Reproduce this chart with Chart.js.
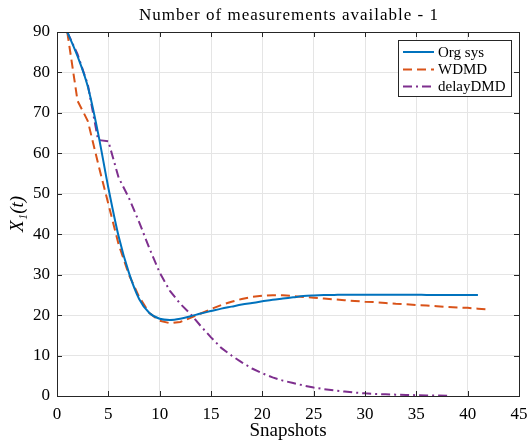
<!DOCTYPE html>
<html><head><meta charset="utf-8">
<script src="https://cdn.jsdelivr.net/npm/chart.js@4/dist/chart.umd.min.js"></script>
<style>html,body{margin:0;padding:0;background:#fff}</style>
</head><body>
<canvas id="c" width="530" height="442"></canvas>
<script>
const chartTitle = 'Number of measurements available - 1';
const xLabel = 'Snapshots';
const yLabel = 'X\u2081(t)';
const seriesNames = ['Org sys', 'WDMD', 'delayDMD'];
const xTicks = [0, 5, 10, 15, 20, 25, 30, 35, 40, 45];
const yTicks = [0, 10, 20, 30, 40, 50, 60, 70, 80, 90];
// values at snapshots 1, 2, 3, ...
const orgSys = [90, 84, 76.5, 65, 51.5, 39.5, 30.5, 24, 20.5, 19.1,
  18.8, 19.1, 19.7, 20.4, 21.0, 21.6, 22.1, 22.6, 23.0, 23.4,
  23.8, 24.1, 24.4, 24.7, 24.85, 24.95, 25.0, 25.05, 25.05, 25.05,
  25.05, 25.05, 25.05, 25.05, 25.05, 25.0, 25.0, 25.0, 25.0, 25.0, 25.0];
const wdmd = [90, 73, 68, 57.5, 47.5, 37.5, 30, 24.5, 20.5, 18.6,
  18.0, 18.3, 19.3, 20.4, 21.5, 22.5, 23.3, 24.0, 24.5, 24.8,
  24.9, 24.9, 24.7, 24.5, 24.3, 24.1, 23.9, 23.7, 23.5, 23.3,
  23.2, 23.0, 22.8, 22.7, 22.5, 22.4, 22.2, 22.0, 21.9, 21.8, 21.6, 21.4];
const delayDMD = [90, 84.5, 77, 63.3, 63, 54, 49, 43, 36.5, 30.5,
  26, 22.8, 20.3, 17.3, 14.5, 11.9, 10, 8.3, 6.8, 5.6,
  4.6, 3.8, 3.2, 2.6, 2.1, 1.7, 1.4, 1.1, 0.85, 0.65,
  0.52, 0.42, 0.33, 0.26, 0.2, 0.15, 0.1, 0.05];

const toPoints = vals => vals.map((v, i) => ({x: i + 1, y: v}));
const FONT = '"Liberation Serif", "Times New Roman", serif';
const AXIS_COLOR = '#262626';

const boxPlugin = {
  id: 'boxTicks',
  afterDraw(chart) {
    const {ctx, chartArea: a, scales: {x, y}} = chart;
    ctx.save();
    // title
    ctx.fillStyle = '#000';
    ctx.font = '17px ' + FONT;
    ctx.textAlign = 'center';
    ctx.textBaseline = 'alphabetic';
    if ('letterSpacing' in ctx) ctx.letterSpacing = '1px';
    ctx.fillText(chartTitle, (a.left + a.right) / 2 + 1, 20);
    if ('letterSpacing' in ctx) ctx.letterSpacing = '0px';

    ctx.strokeStyle = AXIS_COLOR;
    ctx.lineWidth = 1;
    ctx.strokeRect(Math.round(a.left) + 0.5, Math.round(a.top) + 0.5,
      Math.round(a.right - a.left), Math.round(a.bottom - a.top));
    const tl = 5;
    ctx.beginPath();
    xTicks.forEach(t => {
      const px = Math.round(x.getPixelForValue(t)) + 0.5;
      ctx.moveTo(px, a.bottom); ctx.lineTo(px, a.bottom - tl);
      ctx.moveTo(px, a.top); ctx.lineTo(px, a.top + tl);
    });
    yTicks.forEach(t => {
      const py = Math.round(y.getPixelForValue(t)) + 0.5;
      ctx.moveTo(a.left, py); ctx.lineTo(a.left + tl, py);
      ctx.moveTo(a.right, py); ctx.lineTo(a.right - tl, py);
    });
    ctx.stroke();
    // legend
    const lx = 398.5, ly = 40.5, lw = 113, lh = 56;
    ctx.fillStyle = '#fff';
    ctx.fillRect(lx, ly, lw, lh);
    ctx.strokeStyle = AXIS_COLOR;
    ctx.strokeRect(lx, ly, lw, lh);
    const rows = [52, 69.5, 86.5];
    chart.data.datasets.forEach((ds, i) => {
      ctx.save();
      ctx.strokeStyle = ds.borderColor;
      ctx.lineWidth = ds.borderWidth;
      ctx.setLineDash(ds.borderDash || []);
      ctx.beginPath();
      ctx.moveTo(403, rows[i]); ctx.lineTo(434, rows[i]);
      ctx.stroke();
      ctx.restore();
      ctx.fillStyle = '#000';
      ctx.font = '15px ' + FONT;
      ctx.textBaseline = 'middle';
      ctx.textAlign = 'left';
      ctx.fillText(ds.label, 438, rows[i] + 1);
    });
    ctx.restore();
  }
};

new Chart(document.getElementById('c'), {
  type: 'line',
  data: {
    datasets: [
      {label: seriesNames[0], data: toPoints(orgSys), borderColor: '#0072BD', borderWidth: 2,
       cubicInterpolationMode: 'monotone', pointRadius: 0, fill: false},
      {label: seriesNames[1], data: toPoints(wdmd), borderColor: '#D95319', borderWidth: 2,
       borderDash: [9, 5], pointRadius: 0, fill: false, tension: 0},
      {label: seriesNames[2], data: toPoints(delayDMD), borderColor: '#7E2F8E', borderWidth: 2,
       borderDash: [9, 4, 2, 4], pointRadius: 0, fill: false, tension: 0}
    ]
  },
  options: {
    responsive: false,
    animation: false,
    layout: {padding: {left: 0, right: 11, top: 32, bottom: 0}},
    plugins: {
      legend: {display: false},
      tooltip: {enabled: false},
      title: {display: false}
    },
    scales: {
      x: {
        type: 'linear', min: 0, max: 45,
        afterBuildTicks: s => { s.ticks = xTicks.map(v => ({value: v})); },
        afterFit: s => { s.height = 46; s.paddingLeft = 0; s.paddingRight = 0; },
        grid: {color: '#e5e5e5', drawTicks: false},
        border: {display: false},
        ticks: {color: '#000', padding: 8, maxRotation: 0, font: {family: FONT, size: 17}},
        title: {display: true, text: xLabel, color: '#000', padding: {top: 0, bottom: 0},
          font: {family: FONT, size: 19}}
      },
      y: {
        min: 0, max: 90,
        afterBuildTicks: s => { s.ticks = yTicks.map(v => ({value: v})); },
        afterFit: s => { s.width = 57; },
        grid: {color: '#e5e5e5', drawTicks: false},
        border: {display: false},
        ticks: {color: '#000', padding: 7, font: {family: FONT, size: 17}},
        title: {display: true, text: yLabel, color: '#000', padding: {top: 7, bottom: 0},
          font: {family: FONT, size: 19, style: 'italic'}}
      }
    }
  },
  plugins: [boxPlugin]
});
</script>
</body></html>
